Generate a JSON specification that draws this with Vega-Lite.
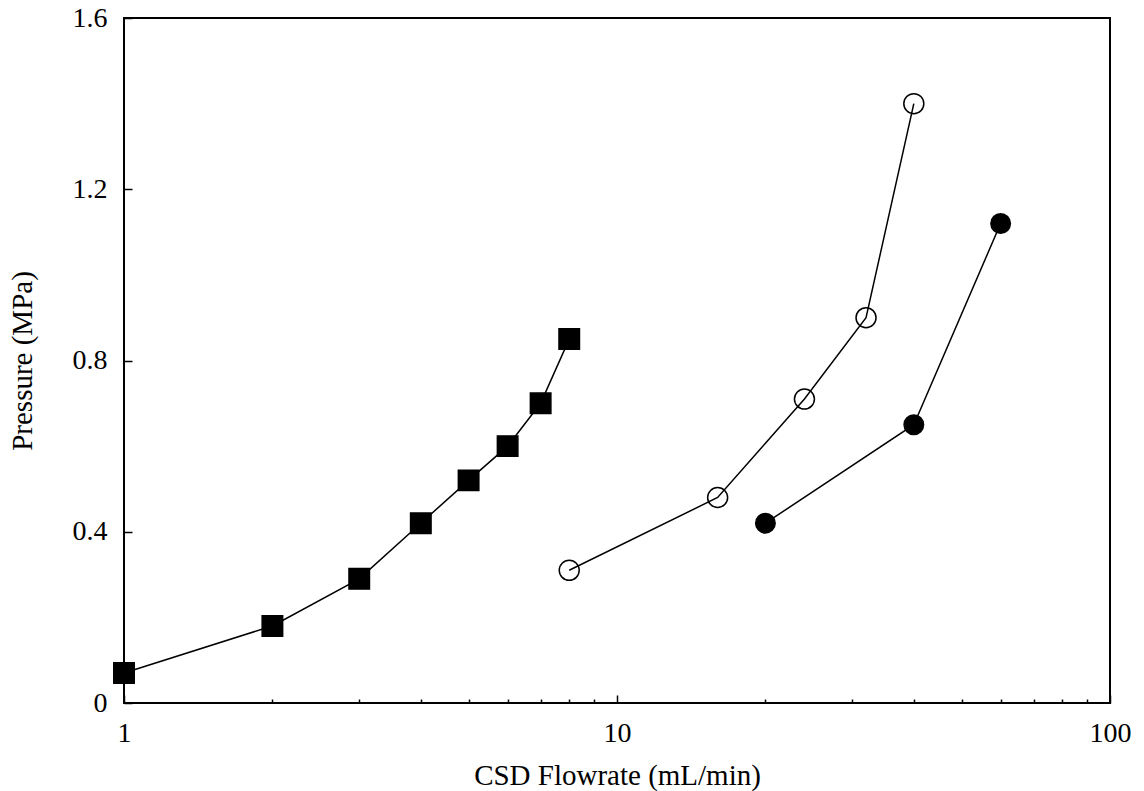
{
  "$schema": "https://vega.github.io/schema/vega-lite/v6.json",
  "width": 986,
  "height": 685,
  "autosize": {"type": "none"},
  "padding": {"left": 124, "top": 18, "right": 34, "bottom": 88},
  "background": "white",
  "config": {
    "view": {"stroke": "black", "strokeWidth": 2},
    "font": "Liberation Serif",
    "axis": {
      "labelFont": "Liberation Serif",
      "titleFont": "Liberation Serif",
      "labelFontSize": 28,
      "titleFontSize": 29,
      "titleFontWeight": "normal",
      "labelColor": "black",
      "titleColor": "black",
      "tickColor": "black",
      "tickWidth": 1.5,
      "labelFlush": false,
      "labelOverlap": false,
      "domain": false,
      "grid": false
    }
  },
  "data": {
    "values": [
      {"series": "A", "flow": 1, "pressure": 0.07},
      {"series": "A", "flow": 2, "pressure": 0.18},
      {"series": "A", "flow": 3, "pressure": 0.29},
      {"series": "A", "flow": 4, "pressure": 0.42},
      {"series": "A", "flow": 5, "pressure": 0.52},
      {"series": "A", "flow": 6, "pressure": 0.60},
      {"series": "A", "flow": 7, "pressure": 0.70},
      {"series": "A", "flow": 8, "pressure": 0.85},
      {"series": "B", "flow": 8, "pressure": 0.31},
      {"series": "B", "flow": 16, "pressure": 0.48},
      {"series": "B", "flow": 24, "pressure": 0.71},
      {"series": "B", "flow": 32, "pressure": 0.90},
      {"series": "B", "flow": 40, "pressure": 1.40},
      {"series": "C", "flow": 20, "pressure": 0.42},
      {"series": "C", "flow": 40, "pressure": 0.65},
      {"series": "C", "flow": 60, "pressure": 1.12}
    ]
  },
  "layer": [
    {
      "mark": {"type": "line", "color": "black", "strokeWidth": 1.5},
      "encoding": {
        "detail": {"field": "series"},
        "x": {
          "field": "flow",
          "type": "quantitative",
          "scale": {"type": "log", "domain": [1, 100], "nice": false},
          "axis": {
            "orient": "bottom",
            "values": [1, 10, 100],
            "format": "d",
            "tickSize": -8,
            "labelPadding": 24,
            "title": "CSD Flowrate (mL/min)",
            "titlePadding": 14
          }
        },
        "y": {
          "field": "pressure",
          "type": "quantitative",
          "scale": {"domain": [0, 1.6], "nice": false, "zero": false},
          "axis": {
            "orient": "left",
            "values": [0, 0.4, 0.8, 1.2, 1.6],
            "labelExpr": "datum.value == 0 ? '0' : format(datum.value, '.1f')",
            "tickSize": -8,
            "labelPadding": 25,
            "title": "Pressure (MPa)",
            "titlePadding": 35
          }
        }
      }
    },
    {
      "mark": {"type": "point", "strokeWidth": 1.5, "filled": true, "opacity": 1},
      "encoding": {
        "x": {
          "field": "flow",
          "type": "quantitative",
          "scale": {"type": "log", "domain": [1, 100], "nice": false},
          "axis": {
            "orient": "bottom",
            "values": [2, 3, 4, 5, 6, 7, 8, 9, 20, 30, 40, 50, 60, 70, 80, 90],
            "labels": false,
            "tickSize": -4,
            "title": null
          }
        },
        "y": {
          "field": "pressure",
          "type": "quantitative",
          "scale": {"domain": [0, 1.6], "nice": false, "zero": false}
        },
        "shape": {
          "field": "series",
          "type": "nominal",
          "scale": {"domain": ["A", "B", "C"], "range": ["square", "circle", "circle"]},
          "legend": null
        },
        "size": {
          "field": "series",
          "type": "nominal",
          "scale": {"domain": ["A", "B", "C"], "range": [420, 380, 420]},
          "legend": null
        },
        "fill": {
          "condition": {"test": "datum.series === 'B'", "value": "transparent"},
          "value": "black"
        },
        "stroke": {"value": "black"},
        "strokeOpacity": {"value": 1}
      }
    }
  ],
  "resolve": {"axis": {"x": "independent"}}
}
